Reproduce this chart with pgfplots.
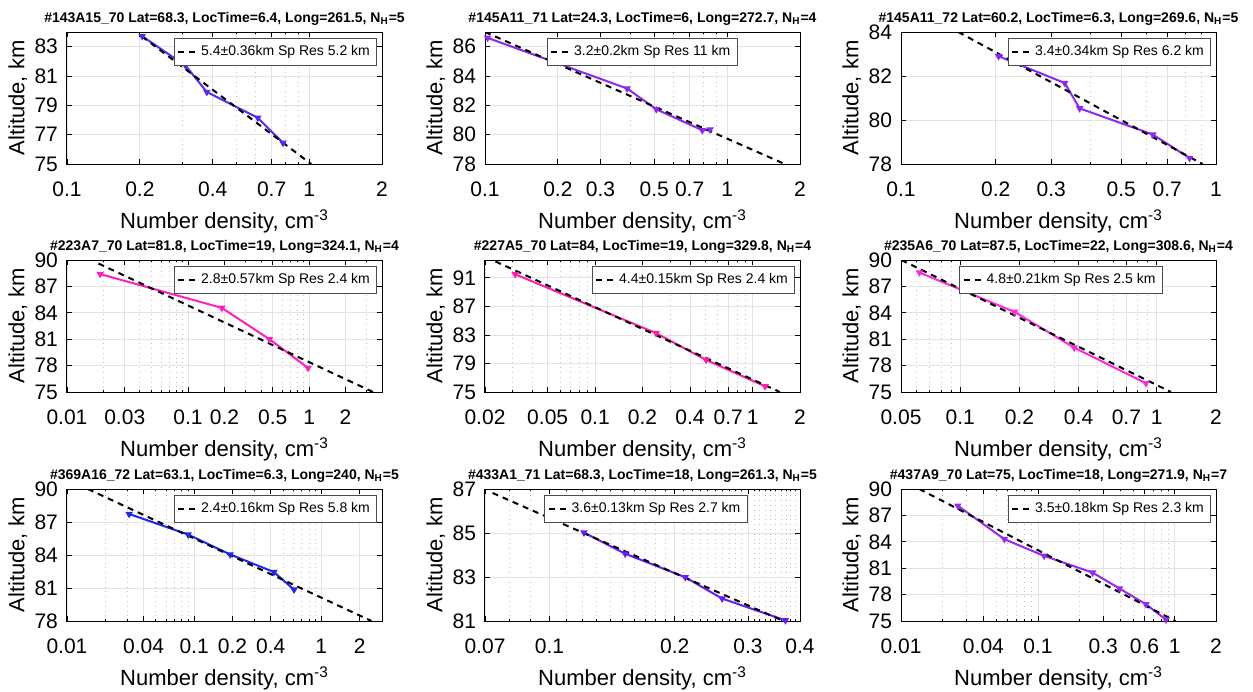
\documentclass[border=0pt]{standalone}
\usepackage{pgfplots}
\pgfplotsset{compat=1.18}
\usepackage{fontspec}
\setmainfont{Liberation Sans}

\definecolor{cA}{RGB}{90,40,245}
\definecolor{cB}{RGB}{140,40,240}
\definecolor{cC}{RGB}{255,30,190}
\definecolor{cD}{RGB}{255,30,170}
\definecolor{cE}{RGB}{255,40,220}
\definecolor{cF}{RGB}{30,40,240}
\definecolor{cG}{RGB}{100,30,245}
\definecolor{cH}{RGB}{150,40,240}

\newcommand{\lf}{\fontsize{7}{8}\selectfont}

\pgfplotsset{
  every axis title shift=0pt,
  panel/.style={
    scale only axis, width=157.5pt, height=66pt,
    anchor=south west,
    axis line style={line width=0.5pt},
    tick align=inside, major tick length=2.5pt, minor tick length=1.2pt,
    tick style={black, line width=0.4pt},
    grid=both,
    major grid style={gray!22, line width=0.4pt},
    minor grid style={gray!50, dotted, line width=0.4pt},
    tick label style={font=\fontsize{10.5}{12}\selectfont},
    xticklabel style={yshift=-5.5pt},
    yticklabel style={xshift=-1pt},
    label style={font=\fontsize{11}{13}\selectfont},
    xlabel={Number density, cm\textsuperscript{-3}},
    ylabel={Altitude, km},
    xlabel style={at={(axis description cs:0.5,-0.49)}, anchor=base},
    ylabel style={at={(axis description cs:-0.156,0.5)}, anchor=center},
    title style={font=\bfseries\fontsize{7}{8}\selectfont, at={(0.5,1)}, anchor=south, inner sep=0pt, yshift=3pt},
    legend style={at={(0.985,0.955)}, anchor=north east, font=\lf,
                  draw=black!70, line width=0.4pt, fill=white, inner sep=1.5pt, cells={anchor=west}},
    legend image code/.code={\draw[##1] (0pt,0pt) -- (9pt,0pt);},
  },
  dat/.style={line width=1pt, mark=triangle*, mark size=1.2pt, mark options={rotate=180, solid}, forget plot},
  fit/.style={black, line width=1pt, dash pattern=on 3pt off 2.5pt},
}

\begin{document}
\begin{tikzpicture}
\path[use as bounding box] (0,0) rectangle (626.5pt,-345.5pt);

% row 1
\begin{semilogxaxis}[panel, at={(33.5pt,-82pt)},
    title={\#143A15\_70 Lat=68.3, LocTime=6.4, Long=261.5, N\textsubscript{H}=5},
    xmin=0.1, xmax=2, xtick={0.1,0.2,0.4,0.7,1,2}, xticklabels={0.1,0.2,0.4,0.7,1,2},
    minor xtick={0.3,0.5,0.6,0.8,0.9},
    ymin=75, ymax=84, ytick={75,77,79,81,83}, yticklabels={75,77,79,81,83}]
\addplot[dat, cA] coordinates {(0.2045,83.71) (0.309,81.70) (0.378,79.91) (0.614,78.15) (0.78,76.44)};
\addplot[fit] coordinates {(0.204,83.7) (1.02,75)};
\addlegendentry{\lf 5.4±0.36km Sp Res 5.2 km}
\end{semilogxaxis}

\begin{semilogxaxis}[panel, at={(242.5pt,-82pt)},
    title={\#145A11\_71 Lat=24.3, LocTime=6, Long=272.7, N\textsubscript{H}=4},
    xmin=0.1, xmax=2, xtick={0.1,0.2,0.3,0.5,0.7,1,2}, xticklabels={0.1,0.2,0.3,0.5,0.7,1,2},
    minor xtick={0.4,0.6,0.8,0.9},
    ymin=78, ymax=87, ytick={78,80,82,84,86}, yticklabels={78,80,82,84,86},
    legend style={at={(0.196,0.955)}, anchor=north west}]
\addplot[dat, cB] coordinates {(0.1025,86.6) (0.386,83.15) (0.51,81.73) (0.79,80.3) (0.85,80.35)};
\addplot[fit] coordinates {(0.1,87) (1.73,78)};
\addlegendentry{\lf 3.2±0.2km Sp Res 11 km}
\end{semilogxaxis}

\begin{semilogxaxis}[panel, at={(450.5pt,-82pt)},
    title={\#145A11\_72 Lat=60.2, LocTime=6.3, Long=269.6, N\textsubscript{H}=5},
    xmin=0.1, xmax=1, xtick={0.1,0.2,0.3,0.5,0.7,1}, xticklabels={0.1,0.2,0.3,0.5,0.7,1},
    minor xtick={0.4,0.6,0.8,0.9},
    ymin=78, ymax=84, ytick={78,80,82,84}, yticklabels={78,80,82,84}]
\addplot[dat, cB] coordinates {(0.204,82.9) (0.331,81.68) (0.369,80.53) (0.63,79.34) (0.824,78.27)};
\addplot[fit] coordinates {(0.152,84) (0.906,78)};
\addlegendentry{\lf 3.4±0.34km Sp Res 6.2 km}
\end{semilogxaxis}

% row 2
\begin{semilogxaxis}[panel, at={(33.5pt,-196pt)},
    title={\#223A7\_70 Lat=81.8, LocTime=19, Long=324.1, N\textsubscript{H}=4},
    xmin=0.01, xmax=4, xtick={0.01,0.03,0.1,0.2,0.5,1,2}, xticklabels={0.01,0.03,0.1,0.2,0.5,1,2},
    minor xtick={0.02,0.04,0.05,0.06,0.07,0.08,0.09,0.3,0.4,0.6,0.7,0.8,0.9,3,4},
    ymin=75, ymax=90, ytick={75,78,81,84,87,90}, yticklabels={75,78,81,84,87,90}]
\addplot[dat, cC] coordinates {(0.0188,88.4) (0.19,84.56) (0.47,81.0) (0.98,77.73)};
\addplot[fit] coordinates {(0.0182,89.6) (3.37,75)};
\addlegendentry{\lf 2.8±0.57km Sp Res 2.4 km}
\end{semilogxaxis}

\begin{semilogxaxis}[panel, at={(242.5pt,-196pt)},
    title={\#227A5\_70 Lat=84, LocTime=19, Long=329.8, N\textsubscript{H}=4},
    xmin=0.02, xmax=2, xtick={0.02,0.05,0.1,0.2,0.4,0.7,1,2}, xticklabels={0.02,0.05,0.1,0.2,0.4,0.7,1,2},
    minor xtick={0.03,0.04,0.06,0.07,0.08,0.09,0.3,0.5,0.6,0.8,0.9},
    ymin=75, ymax=93.5, ytick={75,79,83,87,91}, yticklabels={75,79,83,87,91}]
\addplot[dat, cD] coordinates {(0.0311,91.5) (0.244,83.25) (0.506,79.5) (1.2,75.8)};
\addplot[fit] coordinates {(0.0233,93.3) (1.49,75)};
\addlegendentry{\lf 4.4±0.15km Sp Res 2.4 km}
\end{semilogxaxis}

\begin{semilogxaxis}[panel, at={(450.5pt,-196pt)},
    title={\#235A6\_70 Lat=87.5, LocTime=22, Long=308.6, N\textsubscript{H}=4},
    xmin=0.05, xmax=2, xtick={0.05,0.1,0.2,0.4,0.7,1,2}, xticklabels={0.05,0.1,0.2,0.4,0.7,1,2},
    minor xtick={0.06,0.07,0.08,0.09,0.3,0.5,0.6,0.8,0.9},
    ymin=75, ymax=90, ytick={75,78,81,84,87,90}, yticklabels={75,78,81,84,87,90},
    legend style={at={(0.185,0.955)}, anchor=north west}]
\addplot[dat, cE] coordinates {(0.062,88.58) (0.189,84.1) (0.38,80.04) (0.88,76.0)};
\addplot[fit] coordinates {(0.0502,90) (1.18,75)};
\addlegendentry{\lf 4.8±0.21km Sp Res 2.5 km}
\end{semilogxaxis}

% row 3
\begin{semilogxaxis}[panel, at={(33.5pt,-310.5pt)},
    title={\#369A16\_72 Lat=63.1, LocTime=6.3, Long=240, N\textsubscript{H}=5},
    xmin=0.01, xmax=3, xtick={0.01,0.04,0.1,0.2,0.4,1,2}, xticklabels={0.01,0.04,0.1,0.2,0.4,1,2},
    minor xtick={0.02,0.03,0.05,0.06,0.07,0.08,0.09,0.3,0.5,0.6,0.7,0.8,0.9,3},
    ymin=78, ymax=90, ytick={78,81,84,87,90}, yticklabels={78,81,84,87,90}]
\addplot[dat, cF] coordinates {(0.0308,87.73) (0.0896,85.86) (0.192,84.05) (0.424,82.45) (0.61,80.85)};
\addplot[fit] coordinates {(0.0146,90) (2.48,78)};
\addlegendentry{\lf 2.4±0.16km Sp Res 5.8 km}
\end{semilogxaxis}

\begin{semilogxaxis}[panel, at={(242.5pt,-310.5pt)},
    title={\#433A1\_71 Lat=68.3, LocTime=18, Long=261.3, N\textsubscript{H}=5},
    xmin=0.07, xmax=0.4, xtick={0.07,0.1,0.2,0.3,0.4}, xticklabels={0.07,0.1,0.2,0.3,0.4},
    minor xtick={0.08,0.09,0.11,0.12,0.13,0.14,0.15,0.16,0.17,0.18,0.19,0.21,0.22,0.23,0.24,0.25,0.26,0.27,0.28,0.29,0.31,0.32,0.33,0.34,0.35,0.36,0.37,0.38,0.39},
    ymin=81, ymax=87, ytick={81,83,85,87}, yticklabels={81,83,85,87},
    legend style={at={(0.188,0.955)}, anchor=north west}]
\addplot[dat, cG] coordinates {(0.121,85.02) (0.152,84.06) (0.212,82.99) (0.26,82.02) (0.369,81.03)};
\addplot[fit] coordinates {(0.073,86.82) (0.365,81)};
\addlegendentry{\lf 3.6±0.13km Sp Res 2.7 km}
\end{semilogxaxis}

\begin{semilogxaxis}[panel, at={(450.5pt,-310.5pt)},
    title={\#437A9\_70 Lat=75, LocTime=18, Long=271.9, N\textsubscript{H}=7},
    xmin=0.01, xmax=2, xtick={0.01,0.04,0.1,0.3,0.6,1,2}, xticklabels={0.01,0.04,0.1,0.3,0.6,1,2},
    minor xtick={0.02,0.03,0.05,0.06,0.07,0.08,0.09,0.2,0.4,0.5,0.7,0.8,0.9},
    ymin=75, ymax=90, ytick={75,78,81,84,87,90}, yticklabels={75,78,81,84,87,90}]
\addplot[dat, cH] coordinates {(0.026,88.1) (0.0569,84.3) (0.111,82.4) (0.251,80.5) (0.394,78.7) (0.616,76.9) (0.863,75.15)};
\addplot[fit] coordinates {(0.0136,90) (1.01,75)};
\addlegendentry{\lf 3.5±0.18km Sp Res 2.3 km}
\end{semilogxaxis}

\end{tikzpicture}
\end{document}
